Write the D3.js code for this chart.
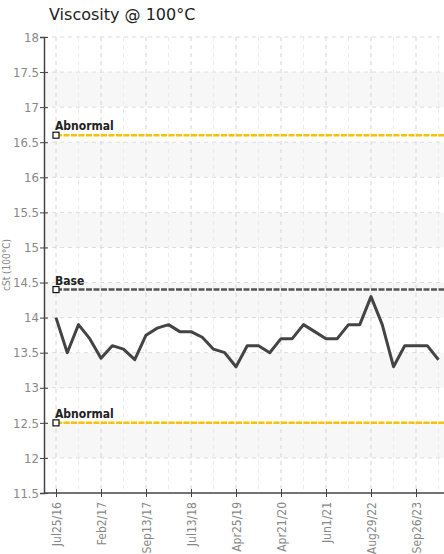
<!DOCTYPE html>
<html lang="en">
<head>
<meta charset="UTF-8">
<script src="https://d3js.org/d3.v7.min.js"></script>
<style>
  body { margin: 0; background: #fff; }
  text { font-family: "DejaVu Sans Condensed", "DejaVu Sans", sans-serif; }
</style>
</head>
<body>
<script>
// readings per sample, left to right
const values = [14.0, 13.5, 13.9, 13.7, 13.42, 13.6, 13.55, 13.4, 13.75, 13.85, 13.9, 13.8,
  13.8, 13.72, 13.55, 13.5, 13.3, 13.6, 13.6, 13.5, 13.7, 13.7, 13.9, 13.8,
  13.7, 13.7, 13.9, 13.9, 14.3, 13.9, 13.3, 13.6, 13.6, 13.6, 13.4];
const tickLabels = ["Jul25/16", "Feb2/17", "Sep13/17", "Jul13/18", "Apr25/19", "Apr21/20", "Jun1/21", "Aug29/22", "Sep26/23"];
const limits = [
  { label: "Abnormal", value: 16.6, color: "#f5c400" },
  { label: "Base", value: 14.4, color: "#555" },
  { label: "Abnormal", value: 12.5, color: "#f5c400" }
];
const yTicks = d3.range(11.5, 18.01, 0.5);

const W = 444, H = 554;
const margin = { top: 37, right: 0, bottom: 61, left: 44 };
const svg = d3.select("body").append("svg").attr("width", W).attr("height", H);

const x = d3.scaleLinear().domain([0, values.length - 1]).range([56, 438.5]);
const y = d3.scaleLinear().domain([11.5, 18]).range([H - margin.bottom, margin.top]);

// stripes
svg.selectAll("rect.band").data(yTicks.filter(t => t < 18 && t >= 12 && Number.isInteger(t)))
  .enter().append("rect")
  .attr("x", margin.left).attr("width", W - margin.left)
  .attr("y", d => y(d + 0.5)).attr("height", d => y(d) - y(d + 0.5))
  .attr("fill", "#f7f7f7");

// grid
svg.selectAll("line.hg").data(yTicks.slice(1)).enter().append("line")
  .attr("x1", margin.left).attr("x2", W).attr("y1", d => y(d)).attr("y2", d => y(d))
  .attr("stroke", "#dcdcdc").attr("stroke-dasharray", "4,4");
svg.selectAll("line.vg").data(d3.range(0, values.length, 2)).enter().append("line")
  .attr("x1", d => x(d)).attr("x2", d => x(d)).attr("y1", margin.top).attr("y2", y(11.5))
  .attr("stroke", d => d % 4 === 0 ? "#d4d4d4" : "#ececec").attr("stroke-dasharray", "4,4");

// axes
const yAxis = svg.append("g").attr("transform", `translate(${margin.left},0)`)
  .call(d3.axisLeft(y).tickValues(yTicks).tickFormat(d3.format("")).tickSize(4));
yAxis.selectAll(".tick line").attr("x2", 4).attr("x1", -4).attr("stroke", "#444");
yAxis.select(".domain").attr("stroke", "#444").attr("stroke-width", 1.5);
yAxis.selectAll("text").attr("fill", "#888").style("font-size", "13px").attr("x", -5);

const xAxis = svg.append("g").attr("transform", `translate(0,${y(11.5)})`)
  .call(d3.axisBottom(x).tickValues(d3.range(0, values.length, 4))
    .tickFormat((d, i) => tickLabels[i]).tickSize(4).tickSizeOuter(0));
xAxis.select(".domain").attr("d", `M${margin.left},0H${W}`).attr("stroke", "#444").attr("stroke-width", 1.5);
xAxis.selectAll(".tick line").attr("y1", -4).attr("y2", 4).attr("stroke", "#444");
xAxis.selectAll("text").attr("fill", "#888").style("font-size", "12px")
  .attr("transform", "rotate(-90)").attr("text-anchor", "end").attr("x", -9).attr("y", 0).attr("dy", "0.35em");

// limit lines
limits.forEach(l => {
  svg.append("line").attr("x1", x(0)).attr("x2", W).attr("y1", y(l.value)).attr("y2", y(l.value))
    .attr("stroke", l.color).attr("stroke-width", 2.5).attr("stroke-dasharray", "6,1.5");
  svg.append("rect").attr("x", x(0) - 3).attr("y", y(l.value) - 3).attr("width", 6).attr("height", 6)
    .attr("fill", "#fff").attr("stroke", "#111").attr("stroke-width", 1.2);
  svg.append("text").attr("x", x(0) - 1).attr("y", y(l.value) - 5)
    .style("font-size", "12px").style("font-weight", "bold").attr("fill", "#222").text(l.label);
});

// series
svg.append("path").datum(values)
  .attr("d", d3.line().x((d, i) => x(i)).y(d => y(d)))
  .attr("fill", "none").attr("stroke", "#444").attr("stroke-width", 3).attr("stroke-linejoin", "round");

// titles
svg.append("text").attr("x", 49).attr("y", 20).style("font-family", "DejaVu Sans")
  .style("font-size", "16px").attr("fill", "#222").text("Viscosity @ 100°C");
svg.append("text").attr("transform", `translate(10,${y(14.75)}) rotate(-90)`)
  .attr("text-anchor", "middle").style("font-size", "10px").attr("fill", "#888").text("cSt (100°C)");
</script>
</body>
</html>
